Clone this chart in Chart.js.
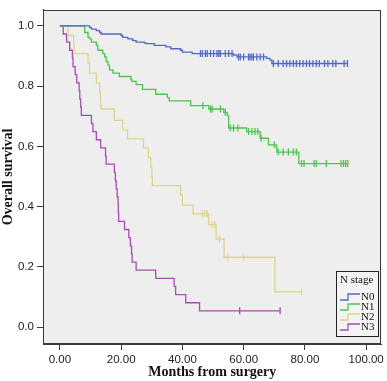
<!DOCTYPE html>
<html>
<head>
<meta charset="utf-8">
<script src="https://cdn.jsdelivr.net/npm/chart.js@4.4.1/dist/chart.umd.min.js"></script>
<style>
html,body{margin:0;padding:0;background:#fff;}
</style>
</head>
<body>
<canvas id="km" width="387" height="381"></canvas>
<script>
// N stage groups, event times (months) and survival after each drop
const groups = ['N0', 'N1', 'N2', 'N3'];
const colors = ['#5367c6', '#4dc44d', '#dcd58c', '#a54db1'];
const xTicks = [0, 20, 40, 60, 80, 100];
const yTicks = [0, 0.2, 0.4, 0.6, 0.8, 1.0];

const n0Time = [0, 9.7, 10.3, 11.9, 13.0, 13.5, 20.0, 20.5, 22.2, 23.8, 24.9, 27.6, 28.1, 30.8, 34.6, 36.2, 39.4, 40.0, 43.2, 56.7, 57.8, 67.5, 68.6, 69.2];
const n0Surv = [1.0, 0.994, 0.989, 0.984, 0.978, 0.973, 0.968, 0.962, 0.957, 0.951, 0.946, 0.943, 0.941, 0.935, 0.930, 0.924, 0.919, 0.913, 0.908, 0.903, 0.897, 0.892, 0.886, 0.875];
const n0Cens = [45.9, 46.5, 47.5, 48.1, 49.2, 50.2, 51.3, 51.9, 52.4, 54.0, 55.1, 56.2, 58.3, 58.9, 60.0, 61.6, 62.1, 62.7, 63.2, 64.3, 65.4, 66.5, 69.7, 71.3, 72.9, 74.0, 75.1, 76.2, 77.2, 78.3, 79.4, 80.5, 81.5, 82.6, 83.7, 84.7, 86.4, 87.5, 89.1, 90.1, 92.8, 93.9];

const n1Time = [0, 8.1, 9.2, 9.7, 10.3, 11.9, 12.4, 14.0, 14.6, 15.1, 15.7, 16.2, 17.3, 19.4, 23.2, 23.5, 24.9, 27.0, 31.3, 35.1, 35.7, 42.7, 48.6, 53.5, 54.6, 55.1, 61.0, 65.4, 68.1, 70.8, 78.0];
const n1Surv = [1.0, 0.978, 0.962, 0.957, 0.946, 0.935, 0.919, 0.908, 0.897, 0.881, 0.870, 0.854, 0.843, 0.832, 0.822, 0.816, 0.805, 0.789, 0.773, 0.762, 0.751, 0.735, 0.724, 0.713, 0.703, 0.661, 0.649, 0.627, 0.605, 0.581, 0.543];
const n1Cens = [46.7, 49.2, 49.7, 52.4, 54.0, 55.6, 56.7, 58.1, 61.6, 62.7, 63.7, 64.6, 65.7, 70.0, 71.3, 72.9, 74.6, 76.2, 77.2, 78.9, 79.7, 83.0, 83.7, 87.0, 91.8, 92.6, 93.3, 94.0];

const n2Time = [0, 2.7, 4.5, 4.7, 9.2, 9.7, 11.9, 13.0, 13.2, 13.4, 17.8, 20.5, 22.1, 27.3, 28.9, 29.7, 30.0, 30.2, 39.4, 40.0, 43.5, 48.6, 51.0, 53.6, 70.2];
const n2Surv = [1.0, 0.968, 0.935, 0.908, 0.876, 0.843, 0.811, 0.779, 0.751, 0.724, 0.686, 0.655, 0.625, 0.595, 0.562, 0.530, 0.500, 0.470, 0.438, 0.405, 0.376, 0.340, 0.292, 0.232, 0.117];
const n2Cens = [46.5, 47.3, 48.1, 49.7, 50.6, 52.1, 54.8, 60.0, 78.9];

const n3Time = [0, 1.1, 2.2, 3.2, 4.1, 4.3, 5.0, 5.5, 6.3, 6.5, 6.8, 7.0, 10.3, 10.8, 11.9, 13.3, 14.9, 15.1, 17.8, 18.1, 18.4, 18.7, 19.0, 19.1, 19.2, 21.1, 22.5, 23.0, 23.4, 23.6, 24.9, 31.3, 37.3, 37.8, 41.1, 45.6];
const n3Surv = [1.0, 0.973, 0.946, 0.919, 0.892, 0.865, 0.838, 0.811, 0.784, 0.757, 0.730, 0.703, 0.676, 0.649, 0.622, 0.595, 0.568, 0.541, 0.514, 0.486, 0.459, 0.432, 0.405, 0.378, 0.351, 0.324, 0.297, 0.270, 0.243, 0.216, 0.189, 0.162, 0.135, 0.108, 0.081, 0.054];
const n3Cens = [58.7, 71.9];

const curves = [
	[n0Time, n0Surv, n0Cens],
	[n1Time, n1Surv, n1Cens],
	[n2Time, n2Surv, n2Cens],
	[n3Time, n3Surv, n3Cens]
];

// survival value of a curve at time t (step function)
function survAt(times, surv, t) {
	let s = surv[0];
	for (let i = 0; i < times.length; i++) {
		if (times[i] <= t) s = surv[i];
	}
	return s;
}

let datasets = [];
curves.forEach((c, k) => {
	const [times, surv, cens] = c;
	let pts = times.map((t, i) => ({x: t, y: surv[i]}));
	pts.push({x: Math.max(...cens), y: surv[surv.length - 1]});
	datasets.push({
		label: groups[k],
		data: pts,
		stepped: true,
		borderColor: colors[k],
		borderWidth: 1.3,
		pointRadius: 0,
		fill: false
	});
	datasets.push({
		label: groups[k] + ' censored',
		data: cens.map(t => ({x: t, y: survAt(times, surv, t)})),
		showLine: false,
		pointStyle: 'line',
		rotation: 90,
		pointRadius: 3.5,
		pointBorderWidth: 1.3,
		borderColor: colors[k],
		backgroundColor: colors[k]
	});
});

const plotBox = {
	id: 'plotBox',
	beforeDraw(chart) {
		const a = chart.chartArea, ctx = chart.ctx;
		ctx.save();
		ctx.fillStyle = '#eeeeee';
		ctx.fillRect(a.left, a.top, a.right - a.left, a.bottom - a.top);
		ctx.restore();
	},
	afterDraw(chart) {
		const a = chart.chartArea, ctx = chart.ctx;
		ctx.save();
		ctx.strokeStyle = '#3a3a3a';
		ctx.lineWidth = 1;
		ctx.strokeRect(Math.round(a.left) + 0.5, Math.round(a.top) + 0.5, Math.round(a.right - a.left) - 1, Math.round(a.bottom - a.top) - 1);

		// legend box, bottom right inside the plot
		const lx = 336.5, ly = 271.5, lw = 42, lh = 65;
		ctx.fillStyle = '#f3f3f3';
		ctx.fillRect(lx, ly, lw, lh);
		ctx.strokeStyle = '#222';
		ctx.strokeRect(lx, ly, lw, lh);
		ctx.fillStyle = '#111';
		ctx.font = '11px "Liberation Serif"';
		ctx.textBaseline = 'middle';
		ctx.fillText('N stage', 340, 280);
		groups.forEach((g, i) => {
			const y = 297 + i * 10;
			ctx.strokeStyle = colors[i];
			ctx.lineWidth = 1.3;
			ctx.beginPath();
			ctx.moveTo(340, y + 3);
			ctx.lineTo(348, y + 3);
			ctx.lineTo(348, y - 3);
			ctx.lineTo(360, y - 3);
			ctx.stroke();
			ctx.fillStyle = '#111';
			ctx.fillText(g, 361, y + 0.5);
		});
		ctx.restore();
	}
};

const tickFont = {family: '"Liberation Sans", Arial, sans-serif', size: 11.5};
const titleFont = {family: '"Liberation Serif", "Times New Roman", serif', size: 14, weight: 'bold'};

new Chart(document.getElementById('km'), {
	type: 'line',
	data: {datasets: datasets},
	plugins: [plotBox],
	options: {
		responsive: false,
		animation: false,
		events: [],
		layout: {padding: {top: 2, right: 3, left: 0, bottom: 0}},
		plugins: {legend: {display: false}, tooltip: {enabled: false}},
		scales: {
			x: {
				type: 'linear',
				min: -5.51,
				max: 105,
				afterBuildTicks: s => { s.ticks = xTicks.map(v => ({value: v})); },
				afterFit: s => { s.height = 37; },
				ticks: {callback: v => Number(v).toFixed(2), font: tickFont, color: '#222', padding: 3, maxRotation: 0, autoSkip: false},
				grid: {drawOnChartArea: false, tickLength: 6, color: '#3a3a3a'},
				border: {color: '#3a3a3a'},
				title: {display: true, text: 'Months from surgery', font: titleFont, color: '#111', padding: 0}
			},
			y: {
				type: 'linear',
				min: -0.056,
				max: 1.053,
				afterBuildTicks: s => { s.ticks = yTicks.map(v => ({value: v})); },
				afterFit: s => { s.width = 43; },
				ticks: {callback: v => Number(v).toFixed(1), font: tickFont, color: '#222', padding: 3, autoSkip: false},
				grid: {drawOnChartArea: false, tickLength: 6, color: '#3a3a3a'},
				border: {color: '#3a3a3a'},
				title: {display: true, text: 'Overall survival', font: titleFont, color: '#111', padding: 0}
			}
		}
	}
});
</script>
</body>
</html>
